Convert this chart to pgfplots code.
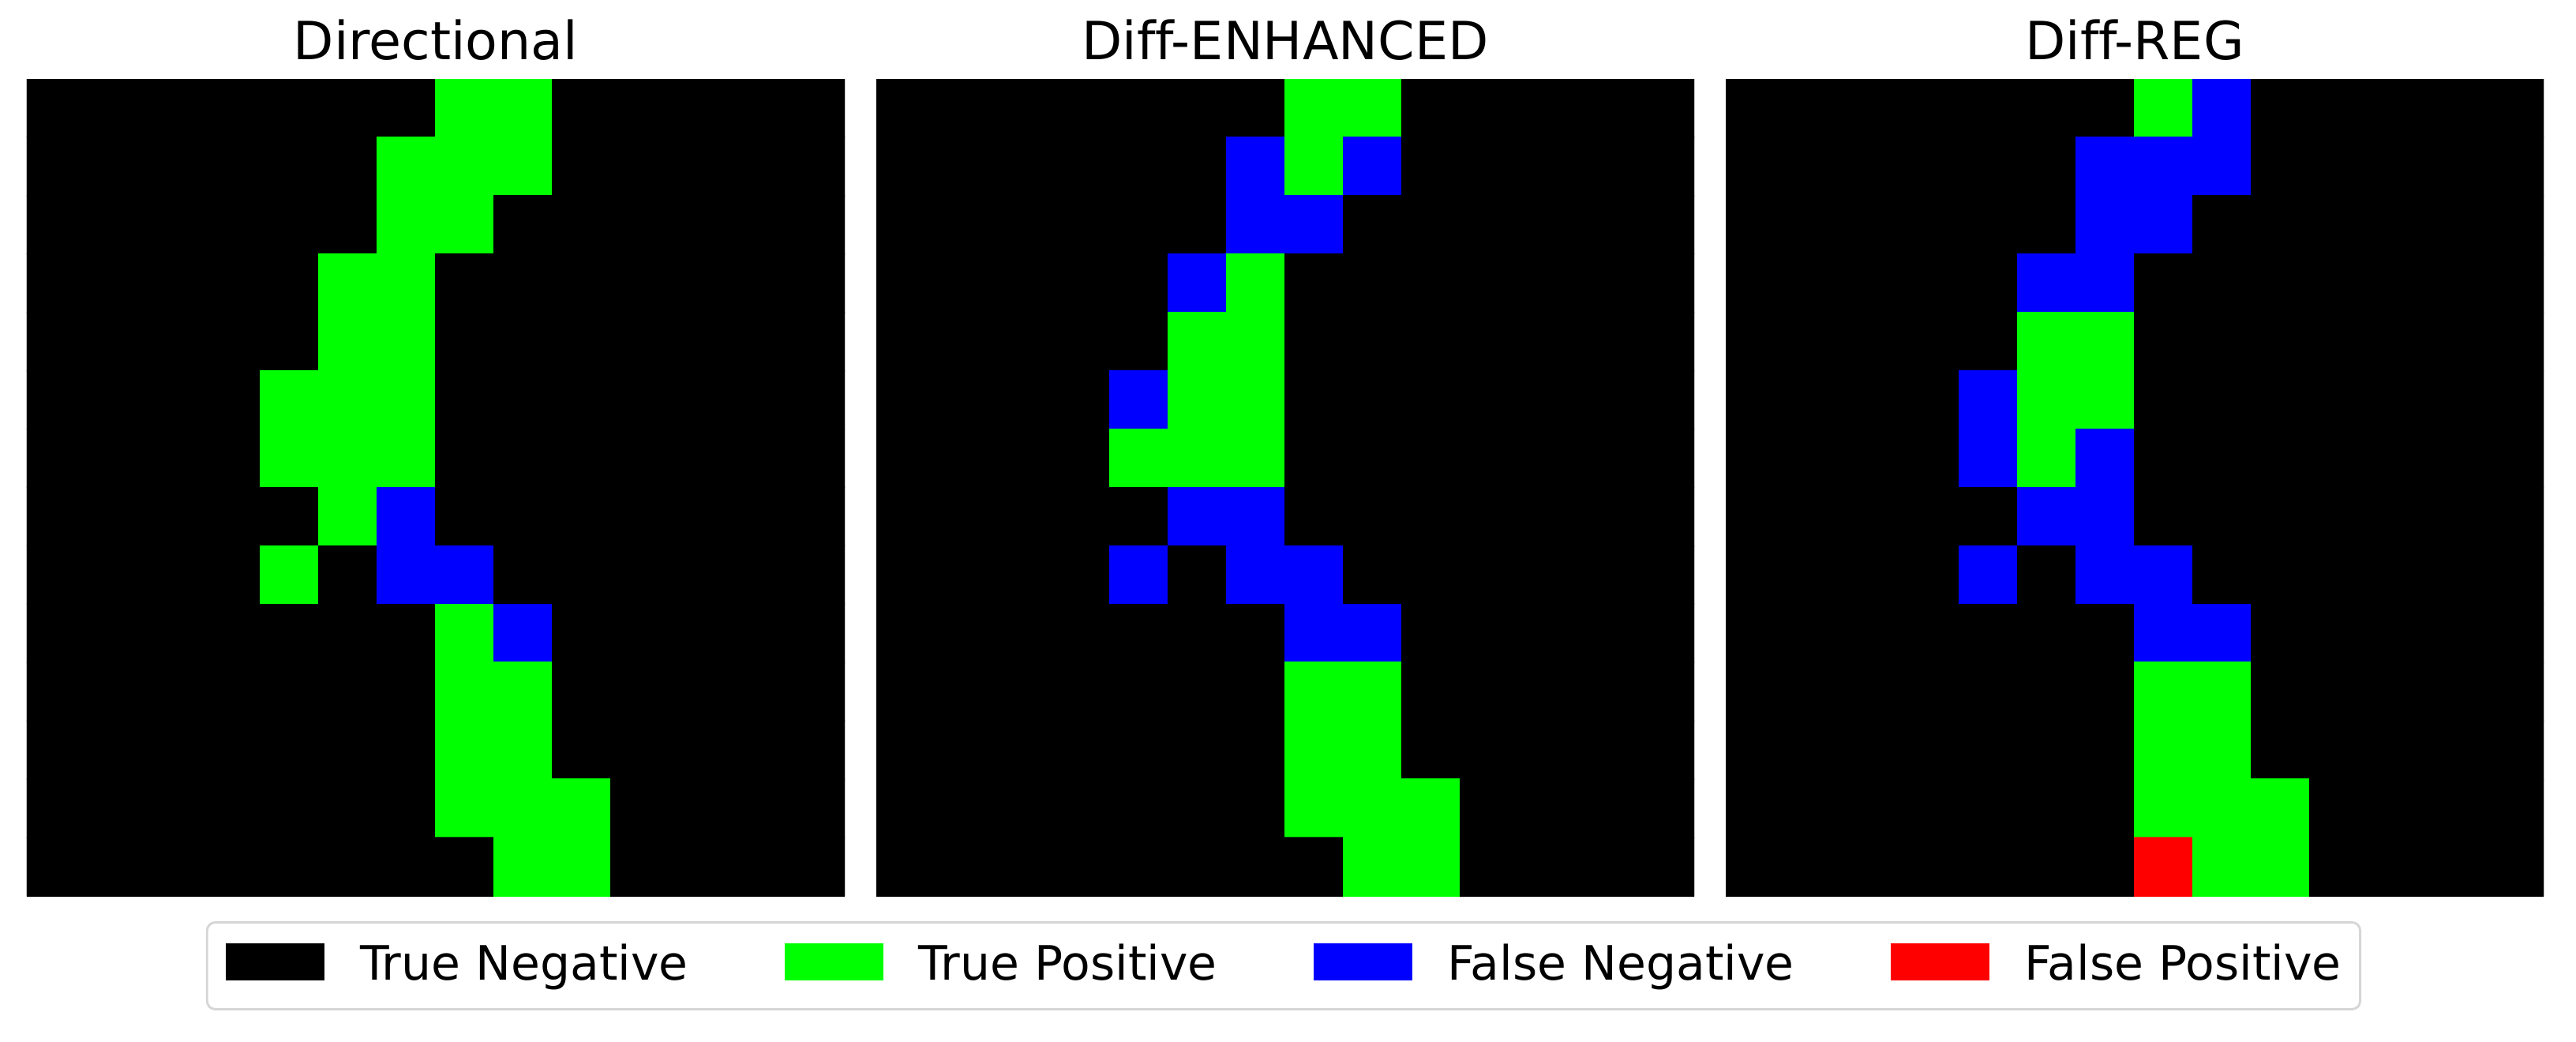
\documentclass[border=0pt]{standalone}
\usepackage{pgfplots}
\usepackage{pgfplotstable}
\pgfplotsset{compat=1.18}
\usepackage{fontspec}
\setmainfont[Ligatures=NoCommon]{DejaVu Sans}
\definecolor{tpgreen}{RGB}{0,255,0}
\definecolor{fnblue}{RGB}{0,0,255}
\definecolor{fpred}{RGB}{255,0,0}
\definecolor{legendgray}{RGB}{214,214,214}

% 0 = True Negative, 1 = True Positive, 2 = False Negative, 3 = False Positive
\pgfplotstableread[row sep=\\]{
x y c\\
0 0 0\\1 0 0\\2 0 0\\3 0 0\\4 0 0\\5 0 0\\6 0 0\\7 0 1\\8 0 1\\9 0 0\\10 0 0\\11 0 0\\12 0 0\\13 0 0\\
0 1 0\\1 1 0\\2 1 0\\3 1 0\\4 1 0\\5 1 0\\6 1 1\\7 1 1\\8 1 1\\9 1 0\\10 1 0\\11 1 0\\12 1 0\\13 1 0\\
0 2 0\\1 2 0\\2 2 0\\3 2 0\\4 2 0\\5 2 0\\6 2 1\\7 2 1\\8 2 0\\9 2 0\\10 2 0\\11 2 0\\12 2 0\\13 2 0\\
0 3 0\\1 3 0\\2 3 0\\3 3 0\\4 3 0\\5 3 1\\6 3 1\\7 3 0\\8 3 0\\9 3 0\\10 3 0\\11 3 0\\12 3 0\\13 3 0\\
0 4 0\\1 4 0\\2 4 0\\3 4 0\\4 4 0\\5 4 1\\6 4 1\\7 4 0\\8 4 0\\9 4 0\\10 4 0\\11 4 0\\12 4 0\\13 4 0\\
0 5 0\\1 5 0\\2 5 0\\3 5 0\\4 5 1\\5 5 1\\6 5 1\\7 5 0\\8 5 0\\9 5 0\\10 5 0\\11 5 0\\12 5 0\\13 5 0\\
0 6 0\\1 6 0\\2 6 0\\3 6 0\\4 6 1\\5 6 1\\6 6 1\\7 6 0\\8 6 0\\9 6 0\\10 6 0\\11 6 0\\12 6 0\\13 6 0\\
0 7 0\\1 7 0\\2 7 0\\3 7 0\\4 7 0\\5 7 1\\6 7 2\\7 7 0\\8 7 0\\9 7 0\\10 7 0\\11 7 0\\12 7 0\\13 7 0\\
0 8 0\\1 8 0\\2 8 0\\3 8 0\\4 8 1\\5 8 0\\6 8 2\\7 8 2\\8 8 0\\9 8 0\\10 8 0\\11 8 0\\12 8 0\\13 8 0\\
0 9 0\\1 9 0\\2 9 0\\3 9 0\\4 9 0\\5 9 0\\6 9 0\\7 9 1\\8 9 2\\9 9 0\\10 9 0\\11 9 0\\12 9 0\\13 9 0\\
0 10 0\\1 10 0\\2 10 0\\3 10 0\\4 10 0\\5 10 0\\6 10 0\\7 10 1\\8 10 1\\9 10 0\\10 10 0\\11 10 0\\12 10 0\\13 10 0\\
0 11 0\\1 11 0\\2 11 0\\3 11 0\\4 11 0\\5 11 0\\6 11 0\\7 11 1\\8 11 1\\9 11 0\\10 11 0\\11 11 0\\12 11 0\\13 11 0\\
0 12 0\\1 12 0\\2 12 0\\3 12 0\\4 12 0\\5 12 0\\6 12 0\\7 12 1\\8 12 1\\9 12 1\\10 12 0\\11 12 0\\12 12 0\\13 12 0\\
0 13 0\\1 13 0\\2 13 0\\3 13 0\\4 13 0\\5 13 0\\6 13 0\\7 13 0\\8 13 1\\9 13 1\\10 13 0\\11 13 0\\12 13 0\\13 13 0\\
}\directional

\pgfplotstableread[row sep=\\]{
x y c\\
0 0 0\\1 0 0\\2 0 0\\3 0 0\\4 0 0\\5 0 0\\6 0 0\\7 0 1\\8 0 1\\9 0 0\\10 0 0\\11 0 0\\12 0 0\\13 0 0\\
0 1 0\\1 1 0\\2 1 0\\3 1 0\\4 1 0\\5 1 0\\6 1 2\\7 1 1\\8 1 2\\9 1 0\\10 1 0\\11 1 0\\12 1 0\\13 1 0\\
0 2 0\\1 2 0\\2 2 0\\3 2 0\\4 2 0\\5 2 0\\6 2 2\\7 2 2\\8 2 0\\9 2 0\\10 2 0\\11 2 0\\12 2 0\\13 2 0\\
0 3 0\\1 3 0\\2 3 0\\3 3 0\\4 3 0\\5 3 2\\6 3 1\\7 3 0\\8 3 0\\9 3 0\\10 3 0\\11 3 0\\12 3 0\\13 3 0\\
0 4 0\\1 4 0\\2 4 0\\3 4 0\\4 4 0\\5 4 1\\6 4 1\\7 4 0\\8 4 0\\9 4 0\\10 4 0\\11 4 0\\12 4 0\\13 4 0\\
0 5 0\\1 5 0\\2 5 0\\3 5 0\\4 5 2\\5 5 1\\6 5 1\\7 5 0\\8 5 0\\9 5 0\\10 5 0\\11 5 0\\12 5 0\\13 5 0\\
0 6 0\\1 6 0\\2 6 0\\3 6 0\\4 6 1\\5 6 1\\6 6 1\\7 6 0\\8 6 0\\9 6 0\\10 6 0\\11 6 0\\12 6 0\\13 6 0\\
0 7 0\\1 7 0\\2 7 0\\3 7 0\\4 7 0\\5 7 2\\6 7 2\\7 7 0\\8 7 0\\9 7 0\\10 7 0\\11 7 0\\12 7 0\\13 7 0\\
0 8 0\\1 8 0\\2 8 0\\3 8 0\\4 8 2\\5 8 0\\6 8 2\\7 8 2\\8 8 0\\9 8 0\\10 8 0\\11 8 0\\12 8 0\\13 8 0\\
0 9 0\\1 9 0\\2 9 0\\3 9 0\\4 9 0\\5 9 0\\6 9 0\\7 9 2\\8 9 2\\9 9 0\\10 9 0\\11 9 0\\12 9 0\\13 9 0\\
0 10 0\\1 10 0\\2 10 0\\3 10 0\\4 10 0\\5 10 0\\6 10 0\\7 10 1\\8 10 1\\9 10 0\\10 10 0\\11 10 0\\12 10 0\\13 10 0\\
0 11 0\\1 11 0\\2 11 0\\3 11 0\\4 11 0\\5 11 0\\6 11 0\\7 11 1\\8 11 1\\9 11 0\\10 11 0\\11 11 0\\12 11 0\\13 11 0\\
0 12 0\\1 12 0\\2 12 0\\3 12 0\\4 12 0\\5 12 0\\6 12 0\\7 12 1\\8 12 1\\9 12 1\\10 12 0\\11 12 0\\12 12 0\\13 12 0\\
0 13 0\\1 13 0\\2 13 0\\3 13 0\\4 13 0\\5 13 0\\6 13 0\\7 13 0\\8 13 1\\9 13 1\\10 13 0\\11 13 0\\12 13 0\\13 13 0\\
}\enhanced

\pgfplotstableread[row sep=\\]{
x y c\\
0 0 0\\1 0 0\\2 0 0\\3 0 0\\4 0 0\\5 0 0\\6 0 0\\7 0 1\\8 0 2\\9 0 0\\10 0 0\\11 0 0\\12 0 0\\13 0 0\\
0 1 0\\1 1 0\\2 1 0\\3 1 0\\4 1 0\\5 1 0\\6 1 2\\7 1 2\\8 1 2\\9 1 0\\10 1 0\\11 1 0\\12 1 0\\13 1 0\\
0 2 0\\1 2 0\\2 2 0\\3 2 0\\4 2 0\\5 2 0\\6 2 2\\7 2 2\\8 2 0\\9 2 0\\10 2 0\\11 2 0\\12 2 0\\13 2 0\\
0 3 0\\1 3 0\\2 3 0\\3 3 0\\4 3 0\\5 3 2\\6 3 2\\7 3 0\\8 3 0\\9 3 0\\10 3 0\\11 3 0\\12 3 0\\13 3 0\\
0 4 0\\1 4 0\\2 4 0\\3 4 0\\4 4 0\\5 4 1\\6 4 1\\7 4 0\\8 4 0\\9 4 0\\10 4 0\\11 4 0\\12 4 0\\13 4 0\\
0 5 0\\1 5 0\\2 5 0\\3 5 0\\4 5 2\\5 5 1\\6 5 1\\7 5 0\\8 5 0\\9 5 0\\10 5 0\\11 5 0\\12 5 0\\13 5 0\\
0 6 0\\1 6 0\\2 6 0\\3 6 0\\4 6 2\\5 6 1\\6 6 2\\7 6 0\\8 6 0\\9 6 0\\10 6 0\\11 6 0\\12 6 0\\13 6 0\\
0 7 0\\1 7 0\\2 7 0\\3 7 0\\4 7 0\\5 7 2\\6 7 2\\7 7 0\\8 7 0\\9 7 0\\10 7 0\\11 7 0\\12 7 0\\13 7 0\\
0 8 0\\1 8 0\\2 8 0\\3 8 0\\4 8 2\\5 8 0\\6 8 2\\7 8 2\\8 8 0\\9 8 0\\10 8 0\\11 8 0\\12 8 0\\13 8 0\\
0 9 0\\1 9 0\\2 9 0\\3 9 0\\4 9 0\\5 9 0\\6 9 0\\7 9 2\\8 9 2\\9 9 0\\10 9 0\\11 9 0\\12 9 0\\13 9 0\\
0 10 0\\1 10 0\\2 10 0\\3 10 0\\4 10 0\\5 10 0\\6 10 0\\7 10 1\\8 10 1\\9 10 0\\10 10 0\\11 10 0\\12 10 0\\13 10 0\\
0 11 0\\1 11 0\\2 11 0\\3 11 0\\4 11 0\\5 11 0\\6 11 0\\7 11 1\\8 11 1\\9 11 0\\10 11 0\\11 11 0\\12 11 0\\13 11 0\\
0 12 0\\1 12 0\\2 12 0\\3 12 0\\4 12 0\\5 12 0\\6 12 0\\7 12 1\\8 12 1\\9 12 1\\10 12 0\\11 12 0\\12 12 0\\13 12 0\\
0 13 0\\1 13 0\\2 13 0\\3 13 0\\4 13 0\\5 13 0\\6 13 0\\7 13 3\\8 13 1\\9 13 1\\10 13 0\\11 13 0\\12 13 0\\13 13 0\\
}\regtable

\pgfplotsset{
  cellaxis/.style={
    width=248.64pt, height=248.4pt, scale only axis,
    hide axis, enlargelimits=false,
    xmin=-0.5, xmax=13.5, ymin=-0.5, ymax=13.5, y dir=reverse,
    colormap={tfpn}{rgb255=(0,0,0) rgb255=(0,255,0) rgb255=(0,0,255) rgb255=(255,0,0)},
    colormap access=direct,
    title style={at={(0.5,1)}, anchor=base, yshift=-0.2pt, inner sep=0pt,
      font=\fontsize{16}{19}\selectfont},
  },
  cellplot/.style={matrix plot*, mesh/cols=14, point meta=explicit, forget plot},
}

\begin{document}
\begin{tikzpicture}
\path (-8.16pt,-44.16pt) rectangle (774.96pt,272.4pt);

\begin{axis}[cellaxis, at={(0pt,0pt)}, anchor=south west, title={Directional}]
\addplot[cellplot] table[x=x, y=y, meta=c] {\directional};
\end{axis}

\begin{axis}[cellaxis, at={(258.24pt,0pt)}, anchor=south west, title={Diff-ENHANCED},
  legend columns=4,
  legend image code/.code={\fill[sharp corners,#1] (0pt,-4.1pt) rectangle (30pt,7.2pt);},
  legend style={at={(0.498,-0.0309)}, anchor=north, draw=legendgray, line width=0.7pt,
    rounded corners=2.5pt, inner xsep=5.7pt, inner ysep=6.3pt,
    font=\fontsize{14.4}{17}\selectfont,
    nodes={inner sep=0pt, text height=10.6pt, text depth=2.6pt},
    /tikz/every odd column/.append style={column sep=10.8pt},
    /tikz/every even column/.append style={column sep=29.3pt}},
]
\addplot[cellplot] table[x=x, y=y, meta=c] {\enhanced};
\addlegendimage{fill=black, draw=none}
\addlegendentry{True Negative}
\addlegendimage{fill=tpgreen, draw=none}
\addlegendentry{True Positive}
\addlegendimage{fill=fnblue, draw=none}
\addlegendentry{False Negative}
\addlegendimage{fill=fpred, draw=none}
\addlegendentry{False Positive}
\end{axis}

\begin{axis}[cellaxis, at={(516.48pt,0pt)}, anchor=south west, title={Diff-REG}]
\addplot[cellplot] table[x=x, y=y, meta=c] {\regtable};
\end{axis}
\end{tikzpicture}
\end{document}
